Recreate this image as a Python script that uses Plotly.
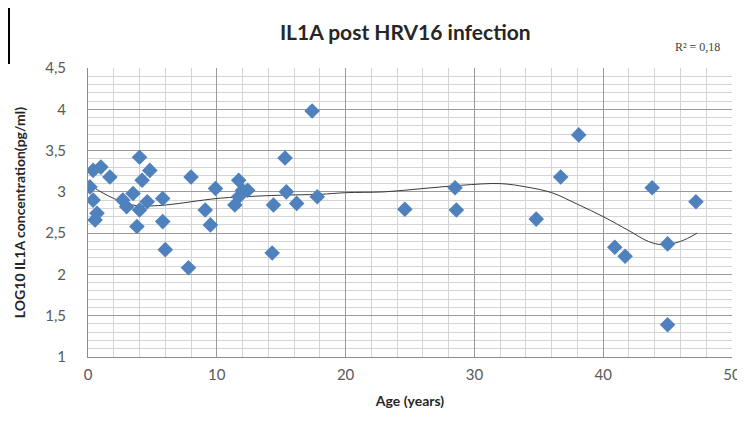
import plotly.graph_objects as go

# age (years) and LOG10 IL1A concentration
age = [0.4, 1.0, 1.7, 0.15, 0.4, 0.7, 0.55, 2.7, 3.5, 3.0,
       4.0, 4.8, 4.2, 4.6, 4.0, 3.8, 5.8, 5.8, 6.0, 8.0,
       7.8, 9.9, 9.1, 9.5, 11.7, 12.0, 11.7, 11.4, 12.4, 14.4,
       14.3, 15.3, 15.4, 16.2, 17.4, 17.8, 24.6, 28.5, 28.6, 34.8,
       36.7, 38.1, 40.9, 41.7, 43.8, 45.0, 45.0, 47.2]
il1a = [3.26, 3.30, 3.18, 3.06, 2.90, 2.74, 2.66, 2.90, 2.98, 2.82,
        3.42, 3.26, 3.14, 2.88, 2.78, 2.58, 2.92, 2.64, 2.30, 3.18,
        2.08, 3.04, 2.78, 2.60, 3.14, 3.02, 2.94, 2.84, 3.02, 2.84,
        2.26, 3.41, 3.00, 2.86, 3.98, 2.94, 2.79, 3.05, 2.78, 2.67,
        3.18, 3.69, 2.33, 2.22, 3.05, 2.37, 1.39, 2.88]

# polynomial trendline, points
trend_x = [0, 1, 2, 3, 4, 6, 8, 10, 12, 15, 18, 20, 23, 26, 29, 32,
           34, 36, 38, 40, 42, 43.5, 44.6, 46, 47.3]
trend_y = [3.10, 3.00, 2.92, 2.86, 2.83, 2.84, 2.88, 2.92, 2.94, 2.96,
           2.97, 2.99, 3.00, 3.04, 3.08, 3.10, 3.06, 2.99, 2.85, 2.70,
           2.53, 2.40, 2.36, 2.40, 2.50]
r2_label = "R² = 0,18"

fig = go.Figure()
fig.add_trace(go.Scatter(x=trend_x, y=trend_y, mode="lines", line_shape="spline",
                         line=dict(color="#3a3a3a", width=1), showlegend=False,
                         hoverinfo="skip"))
fig.add_trace(go.Scatter(x=age, y=il1a, mode="markers", showlegend=False,
                         marker=dict(symbol="diamond", size=12, color="#4F81BD",
                                     line=dict(width=0))))

axis_font = dict(family="Lato, Arial", size=15, color="#595959")
fig.update_xaxes(range=[0, 50], dtick=10, showgrid=True, gridcolor="#9a9a9a", gridwidth=1,
                 minor=dict(dtick=2, showgrid=True, gridcolor="#d4d4d4"),
                 showline=True, linecolor="#8c8c8c", zeroline=False, automargin=False,
                 tickfont=axis_font, ticks="", ticklabelstandoff=4,
                 title=dict(text="<b>Age (years)</b>", standoff=14,
                            font=dict(family="Lato, Arial", size=14, color="#262626")))
fig.update_yaxes(range=[1, 4.5], dtick=0.5, showgrid=True, gridcolor="#9a9a9a", gridwidth=1,
                 minor=dict(dtick=0.1, showgrid=True, gridcolor="#d4d4d4"),
                 showline=True, linecolor="#8c8c8c", zeroline=False, automargin=False,
                 tickfont=axis_font, ticks="", ticklabelstandoff=18,
                 title=dict(text="<b>LOG10 IL1A concentration(pg/ml)</b>", standoff=16,
                            font=dict(family="Lato, Arial", size=14, color="#262626")))

# page body has an 8px margin, so the figure starts 8px in from the window corner
fig.update_layout(
    width=737, height=425,
    margin=dict(l=80, r=13, t=60, b=76, autoexpand=False),
    paper_bgcolor="white", plot_bgcolor="white",
    separators=", ",
    title=dict(text="<b>IL1A post HRV16 infection</b>", x=0.539, xanchor="center",
               y=0.941, yanchor="middle",
               font=dict(family="Lato, Arial", size=21, color="#262626")),
    annotations=[dict(text=r2_label, xref="paper", yref="paper", x=0.984, y=1.073,
                      xanchor="right", yanchor="middle", showarrow=False,
                      font=dict(family="Liberation Serif, serif", size=12, color="#404040"))],
    shapes=[dict(type="rect", xref="paper", yref="paper", x0=-0.2, x1=-0.1227,
                 y0=1.017, y1=1.204, line=dict(color="black", width=2))],
)

fig.write_html("out.html")
